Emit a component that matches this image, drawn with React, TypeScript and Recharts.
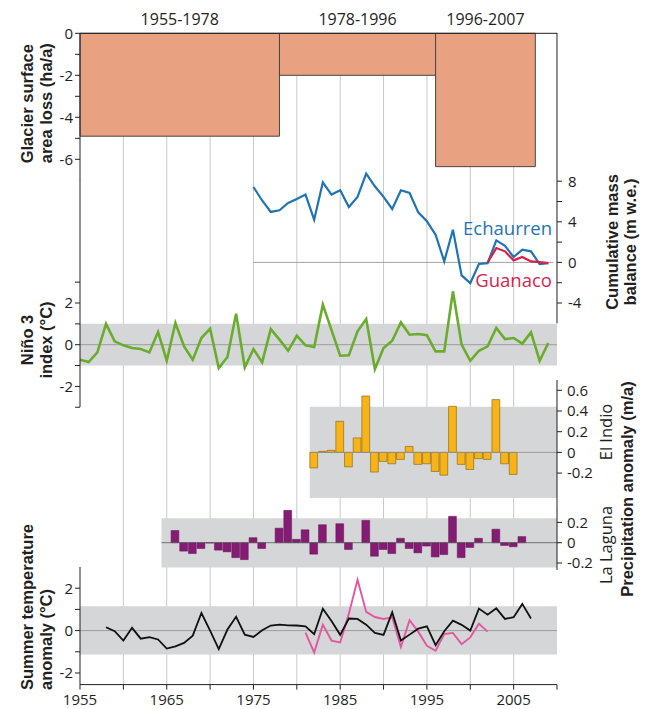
import React from "react";
import {
  ComposedChart,
  Line,
  Bar,
  XAxis,
  YAxis,
  ReferenceArea,
  ReferenceLine,
} from "recharts";

// glacier surface area loss per period (ha/a)
const PERIOD_LABELS = ["1955-1978", "1978-1996", "1996-2007"];
const PERIOD_START = [1955, 1978, 1996];
const PERIOD_END = [1978, 1996, 2007.5];
const AREA_LOSS = [-4.9, -2.0, -6.35];

// cumulative mass balance (m w.e.)
const ECHAURREN_FIRST_YEAR = 1975;
const ECHAURREN = [
  7.43, 6.1, 4.97, 5.13, 5.86, 6.25, 6.68, 4.21, 7.89, 6.68, 7.11, 5.46, 6.45,
  8.75, 7.5, 6.45, 5.26, 7.11, 6.84, 4.93, 4.05, 2.73, 0.1, 3.22, -1.28, -2.04,
  -0.16, -0.07, 2.17, 1.64, 0.53, 1.25, 1.09, -0.16, -0.07,
];
const GUANACO_FIRST_YEAR = 2002;
const GUANACO = [0, 1.41, 1.09, 0.2, 0.53, 0.1, 0.03, -0.07];

// Niño 3 index (°C)
const NINO_FIRST_YEAR = 1955;
const NINO_3 = [
  -0.72, -0.83, -0.37, 1.0, 0.16, -0.03, -0.16, -0.21, -0.37, 0.61, -0.77,
  1.04, -0.08, -0.72, 0.32, 0.77, -1.12, -0.59, 1.49, -1.09, -0.21, -0.85,
  0.75, 0.24, -0.29, 0.43, -0.03, -0.11, 1.92, 0.7, -0.53, -0.51, 0.64, 1.23,
  -1.17, -0.16, 0.19, 1.07, 0.48, 0.51, 0.45, -0.32, -0.32, 2.56, 0.0, -0.77,
  -0.29, -0.08, 0.8, 0.27, 0.32, 0.05, 0.59, -0.77, 0.08,
];

// precipitation anomaly (m/a)
const EL_INDIO_FIRST_YEAR = 1982;
const EL_INDIO = [
  -0.15, 0.01, 0.02, 0.3, -0.14, 0.14, 0.545, -0.19, -0.087, -0.11, -0.068,
  0.058, -0.116, -0.11, -0.184, -0.22, 0.445, -0.116, -0.165, -0.06, -0.068,
  0.51, -0.11, -0.213,
];
const LA_LAGUNA_FIRST_YEAR = 1965;
const LA_LAGUNA = [
  0, 0.12, -0.083, -0.107, -0.057, -0.003, -0.073, -0.09, -0.147, -0.167, 0.05,
  -0.057, 0, 0.143, 0.32, 0.033, 0.127, -0.113, 0.177, 0, 0.187, -0.067, 0,
  0.22, -0.133, -0.067, -0.107, 0.043, -0.057, -0.1, -0.033, -0.14, -0.117,
  0.26, -0.147, -0.047, 0.043, 0, 0.133, -0.027, -0.04, 0.06,
];

// summer temperature anomaly (°C)
const TEMP_FIRST_YEAR = 1958;
const TEMP_BLACK = [
  0.16, -0.03, -0.47, 0.13, -0.38, -0.31, -0.42, -0.85, -0.74, -0.58, -0.24,
  0.83, 0.0, -0.87, 0.05, 0.65, -0.19, -0.3, 0.02, 0.24, 0.28, 0.25, 0.24, 0.2,
  -0.17, 1.03, 0.45, -0.2, 0.57, 0.55, 0.28, -0.11, -0.2, 0.86, -0.47, -0.19,
  0.09, 0.2, -0.69, -0.03, 0.47, 0.27, 0.0, 1.04, 0.75, 1.05, 0.55, 0.63, 1.26,
  0.57,
];
const TEMP_PINK_FIRST_YEAR = 1981;
const TEMP_PINK = [
  -0.1, -1.03, 0.28, -0.47, -0.56, 0.8, 2.4, 0.88, 0.64, 0.55, 0.63, -0.77,
  0.49, -0.05, -0.72, -0.95, -0.16, -0.11, -0.64, -0.32, 0.32, -0.05,
];

const YEAR_TICKS = [1955, 1960, 1965, 1970, 1975, 1980, 1985, 1990, 1995, 2000, 2005, 2010];
const GRID_YEARS = [1960, 1965, 1970, 1975, 1980, 1985, 1990, 1995, 2000, 2005];
const AREA_TICKS = [-6, -5, -4, -3, -2, -1, 0];
const MASS_TICKS = [-4, -2, 0, 2, 4, 6, 8];
const NINO_TICKS = [-3, -2, -1, 0, 1, 2, 3];
const EL_INDIO_TICKS = [-0.2, 0, 0.2, 0.4, 0.6];
const LA_LAGUNA_TICKS = [-0.2, 0, 0.2];
const TEMP_TICKS = [-2, -1, 0, 1, 2];

const W = 648;
const H = 709;
const X0 = 80;
const X1 = 557;
const AXIS_W = 40;
const BAR_W = (X1 - X0) / 55;
const YEARS: [number, number] = [1955, 2010];

const INK = "#231f20";
const FONT = "'Open Sans', 'DejaVu Sans', sans-serif";
const BOLD = "'Liberation Sans', Arial, sans-serif";
const BAND = "#d5d6d8";
const GRID = "#c9c9c9";
const ZERO = "#8e8e8e";

const toRows = (first: number, values: number[]) =>
  values.map((v, i) => ({ year: first + i, v }));

// axis domain so that the value 0 lands on zeroY inside a plot from top to bottom
const span = (top: number, bottom: number, zeroY: number, ppu: number): [number, number] => [
  -(bottom - zeroY) / ppu,
  (zeroY - top) / ppu,
];

const sideTick = (anchor: "start" | "end", every?: number) => (props: any) => {
  const { x, y, payload } = props;
  const v = payload.value;
  if (every && Math.abs(v % every) > 1e-9) return <g />;
  return (
    <text x={x} y={y} dy="0.36em" textAnchor={anchor} fontFamily={FONT} fontSize={15} fill={INK}>
      {v}
    </text>
  );
};

const yearTick = (props: any) => {
  const { x, y, payload } = props;
  const v = payload.value;
  if ((v - 1955) % 10 !== 0 || v >= 2010) return <g />;
  return (
    <text x={x} y={y} dy="0.71em" textAnchor="middle" fontFamily={FONT} fontSize={15} fill={INK}>
      {v}
    </text>
  );
};

const axisStyle = { stroke: INK, strokeWidth: 1 };

function Panel({ plotTop, plotBottom, left, right, data, bottomAxis, children }: any) {
  const pad = 5;
  const height = plotBottom - plotTop + pad + (bottomAxis || pad);
  return (
    <div style={{ position: "absolute", left: 0, top: plotTop - pad, width: W, height }}>
      <ComposedChart
        width={W}
        height={height}
        data={data}
        margin={{ top: pad, bottom: bottomAxis ? 0 : pad, left, right }}
      >
        {children}
      </ComposedChart>
    </div>
  );
}

function VText({ x, y, anchor = "middle", bold = false, size = 16.5, children }: any) {
  return (
    <text
      transform={`translate(${x} ${y}) rotate(-90)`}
      textAnchor={anchor}
      fontFamily={bold ? BOLD : FONT}
      fontWeight={bold ? 700 : 400}
      fontSize={size}
      fill={INK}
    >
      {children}
    </text>
  );
}

const MASS_DOMAIN = span(33.3, 323.6, 262.7, 10.15);
const NINO_DOMAIN = span(180.3, 407.4, 345, 20.85);
const EL_INDIO_DOMAIN = span(379.6, 510, 452, 103.5);
const LA_LAGUNA_DOMAIN = span(510, 570, 542.7, 101.5);
const TEMP_DOMAIN = span(567.4, 685, 631, 21.2);

export default function App() {
  const hiddenX = (
    <XAxis type="number" dataKey="year" domain={YEARS} hide allowDataOverflow />
  );

  return (
    <div
      style={{
        position: "absolute",
        left: 0,
        top: 0,
        width: W,
        height: H,
        background: "#fff",
        overflow: "hidden",
      }}
    >
      {/* vertical grid through all panels */}
      <Panel
        plotTop={33.3}
        plotBottom={685}
        left={X0}
        right={W - X1}
        data={GRID_YEARS.map((year) => ({ year, v: 0.5 }))}
      >
        {hiddenX}
        <YAxis
          type="number"
          domain={[0, 1]}
          width={0}
          axisLine={false}
          tickLine={false}
          tick={false}
        />
        {GRID_YEARS.map((y) => (
          <ReferenceLine key={y} x={y} stroke={GRID} strokeWidth={1} ifOverflow="visible" />
        ))}
        <Line dataKey="v" stroke="none" dot={false} isAnimationActive={false} />
      </Panel>

      {/* glacier surface area loss */}
      <div style={{ position: "absolute", left: 0, top: 0, width: W, height: 185.3 }}>
        <ComposedChart
          width={W}
          height={185.3}
          margin={{ top: 0, bottom: 5, left: X0 - AXIS_W, right: W - X1 }}
        >
          <XAxis
            type="number"
            dataKey="year"
            orientation="top"
            domain={YEARS}
            ticks={PERIOD_END}
            tick={false}
            tickSize={5}
            height={33.3}
            axisLine={axisStyle}
            tickLine={axisStyle}
            allowDataOverflow
          />
          <YAxis
            type="number"
            domain={[-7, 0]}
            ticks={AREA_TICKS}
            width={AXIS_W}
            tickSize={5}
            tickMargin={2}
            axisLine={axisStyle}
            tickLine={axisStyle}
            tick={sideTick("end", 2)}
            interval={0}
            allowDataOverflow
          />
          {AREA_LOSS.map((v, i) => (
            <ReferenceArea
              key={PERIOD_LABELS[i]}
              x1={PERIOD_START[i]}
              x2={PERIOD_END[i]}
              y1={v}
              y2={0}
              fill="#e8a281"
              fillOpacity={1}
              stroke="#4d4340"
              strokeWidth={1}
              label={{
                value: PERIOD_LABELS[i],
                position: "top",
                offset: 8,
                fill: INK,
                fontSize: 16,
                fontFamily: FONT,
              }}
            />
          ))}
        </ComposedChart>
      </div>

      {/* Niño 3 index */}
      <Panel plotTop={180.3} plotBottom={407.4} left={X0 - AXIS_W} right={W - X1}>
        {hiddenX}
        <YAxis
          type="number"
          domain={NINO_DOMAIN}
          ticks={NINO_TICKS}
          width={AXIS_W}
          tickSize={5}
          tickMargin={2}
          axisLine={axisStyle}
          tickLine={axisStyle}
          tick={sideTick("end", 2)}
          interval={0}
          allowDataOverflow
        />
        <ReferenceArea x1={1955} x2={2010} y1={-1} y2={1} fill={BAND} fillOpacity={1} stroke="none" />
        <ReferenceLine y={0} stroke={ZERO} strokeWidth={0.8} />
        <Line
          data={toRows(NINO_FIRST_YEAR, NINO_3)}
          dataKey="v"
          stroke="#6aad2e"
          strokeWidth={2.6}
          dot={false}
          isAnimationActive={false}
        />
      </Panel>

      {/* cumulative mass balance */}
      <Panel plotTop={33.3} plotBottom={323.6} left={X0} right={W - X1 - AXIS_W}>
        {hiddenX}
        <YAxis
          type="number"
          orientation="right"
          domain={MASS_DOMAIN}
          ticks={MASS_TICKS}
          width={AXIS_W}
          tickSize={5}
          tickMargin={6}
          axisLine={axisStyle}
          tickLine={axisStyle}
          tick={sideTick("start", 4)}
          interval={0}
          allowDataOverflow
        />
        <ReferenceLine
          segment={[
            { x: 1975, y: 0 },
            { x: 2009.6, y: 0 },
          ]}
          stroke="#a3a3a3"
          strokeWidth={1}
        />
        <Line
          data={toRows(ECHAURREN_FIRST_YEAR, ECHAURREN)}
          dataKey="v"
          stroke="#1f74b4"
          strokeWidth={2.2}
          dot={false}
          isAnimationActive={false}
        />
        <Line
          data={toRows(GUANACO_FIRST_YEAR, GUANACO)}
          dataKey="v"
          stroke="#d81f4c"
          strokeWidth={2.2}
          dot={false}
          isAnimationActive={false}
        />
      </Panel>

      {/* El Indio precipitation */}
      <Panel
        plotTop={379.6}
        plotBottom={510}
        left={X0}
        right={W - X1 - AXIS_W}
        data={toRows(EL_INDIO_FIRST_YEAR, EL_INDIO)}
      >
        {hiddenX}
        <YAxis
          type="number"
          orientation="right"
          domain={EL_INDIO_DOMAIN}
          ticks={EL_INDIO_TICKS}
          width={AXIS_W}
          tickSize={5}
          tickMargin={5}
          axisLine={axisStyle}
          tickLine={axisStyle}
          tick={sideTick("start")}
          interval={0}
          allowDataOverflow
        />
        <ReferenceArea x1={1981.5} x2={2010} y1={-0.44} y2={0.44} fill={BAND} fillOpacity={1} stroke="none" />
        <ReferenceLine
          segment={[
            { x: 1981.5, y: 0 },
            { x: 2010, y: 0 },
          ]}
          stroke={ZERO}
          strokeWidth={0.8}
        />
        <Bar
          dataKey="v"
          fill="#f8b416"
          stroke="#7d5e10"
          strokeWidth={0.6}
          barSize={BAR_W}
          isAnimationActive={false}
        />
      </Panel>

      {/* La Laguna precipitation */}
      <Panel
        plotTop={510}
        plotBottom={570}
        left={X0}
        right={W - X1 - AXIS_W}
        data={toRows(LA_LAGUNA_FIRST_YEAR, LA_LAGUNA)}
      >
        {hiddenX}
        <YAxis
          type="number"
          orientation="right"
          domain={LA_LAGUNA_DOMAIN}
          ticks={LA_LAGUNA_TICKS}
          width={AXIS_W}
          tickSize={5}
          tickMargin={5}
          axisLine={axisStyle}
          tickLine={axisStyle}
          tick={sideTick("start")}
          interval={0}
          allowDataOverflow
        />
        <ReferenceArea x1={1964.4} x2={2010} y1={-0.245} y2={0.24} fill={BAND} fillOpacity={1} stroke="none" />
        <ReferenceLine
          segment={[
            { x: 1964.4, y: 0 },
            { x: 2010, y: 0 },
          ]}
          stroke="#555"
          strokeWidth={0.8}
        />
        <Bar
          dataKey="v"
          fill="#861b74"
          stroke="#5d1250"
          strokeWidth={0.5}
          barSize={BAR_W}
          isAnimationActive={false}
        />
      </Panel>

      {/* summer temperature anomaly */}
      <Panel plotTop={567.4} plotBottom={685} left={X0 - AXIS_W} right={W - X1} bottomAxis={24}>
        <XAxis
          type="number"
          dataKey="year"
          domain={YEARS}
          ticks={YEAR_TICKS}
          interval={0}
          height={24}
          tickSize={5}
          tickMargin={5}
          axisLine={axisStyle}
          tickLine={axisStyle}
          tick={yearTick}
          allowDataOverflow
        />
        <YAxis
          type="number"
          domain={TEMP_DOMAIN}
          ticks={TEMP_TICKS}
          width={AXIS_W}
          tickSize={5}
          tickMargin={2}
          axisLine={axisStyle}
          tickLine={axisStyle}
          tick={sideTick("end", 2)}
          interval={0}
          allowDataOverflow
        />
        <ReferenceArea x1={1955} x2={2010} y1={-1.13} y2={1.15} fill={BAND} fillOpacity={1} stroke="none" />
        <ReferenceLine y={0} stroke={ZERO} strokeWidth={0.8} />
        <Line
          data={toRows(TEMP_PINK_FIRST_YEAR, TEMP_PINK)}
          dataKey="v"
          stroke="#e2579e"
          strokeWidth={1.9}
          dot={false}
          isAnimationActive={false}
        />
        <Line
          data={toRows(TEMP_FIRST_YEAR, TEMP_BLACK)}
          dataKey="v"
          stroke="#111"
          strokeWidth={1.8}
          dot={false}
          isAnimationActive={false}
        />
      </Panel>

      {/* axis titles and series names */}
      <svg
        width={W}
        height={H}
        style={{ position: "absolute", left: 0, top: 0, pointerEvents: "none" }}
      >
        <VText x={32.5} y={163.3} anchor="start" bold>Glacier surface</VText>
        <VText x={51.5} y={163.3} anchor="start" bold>area loss (ha/a)</VText>
        <VText x={32.5} y={340} bold>Niño 3</VText>
        <VText x={51.5} y={340} bold>index (°C)</VText>
        <VText x={32.5} y={690} anchor="start" bold>Summer temperature</VText>
        <VText x={51.5} y={690} anchor="start" bold>anomaly (°C)</VText>

        <VText x={617.5} y={242} bold>Cumulative mass</VText>
        <VText x={635.5} y={242} bold>balance (m w.e.)</VText>
        <VText x={611.5} y={432}>El Indio</VText>
        <VText x={611.5} y={545}>La Laguna</VText>
        <VText x={633} y={489} bold>Precipitation anomaly (m/a)</VText>

        <text x={552} y={235} textAnchor="end" fontFamily={FONT} fontSize={18.5} fill="#1f74b4">
          Echaurren
        </text>
        <text x={552} y={286.7} textAnchor="end" fontFamily={FONT} fontSize={18.5} fill="#d81f4c">
          Guanaco
        </text>
      </svg>
    </div>
  );
}
